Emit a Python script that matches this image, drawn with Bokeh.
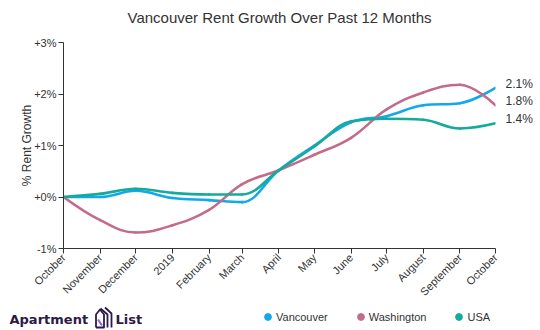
import datetime as dt
from math import pi
from bokeh.plotting import figure
from bokeh.layouts import column, row
from bokeh.models import (FixedTicker, ColumnDataSource, LinearAxis, Legend,
                          LegendItem, Label, Title)
from bokeh.embed import file_html
from bokeh.resources import INLINE

# ---------------- data ----------------
months = ["2018-10-01", "2018-11-01", "2018-12-01", "2019-01-01", "2019-02-01",
          "2019-03-01", "2019-04-01", "2019-05-01", "2019-06-01", "2019-07-01",
          "2019-08-01", "2019-09-01", "2019-10-01"]
tick_labels = ["October", "November", "December", "2019", "February", "March",
               "April", "May", "June", "July", "August", "September", "October"]
vancouver = [0.0, 0.0, 0.12, -0.02, -0.06, -0.10, 0.52, 1.00, 1.45, 1.57, 1.78, 1.82, 2.12]
washington = [0.0, -0.45, -0.69, -0.55, -0.25, 0.25, 0.52, 0.82, 1.15, 1.70, 2.03, 2.18, 1.78]
usa = [0.0, 0.06, 0.16, 0.08, 0.05, 0.05, 0.52, 0.98, 1.47, 1.52, 1.50, 1.33, 1.43]
series_names = ["Vancouver", "Washington", "USA"]
series_colors = ["#13a8ec", "#c36b8a", "#16aa9a"]
y_ticks = [-1, 0, 1, 2, 3]
y_tick_labels = ["-1%", "+0%", "+1%", "+2%", "+3%"]
brand_words = ["Apartment", "List"]

start = dt.date.fromisoformat(months[0])
xs = [(dt.date.fromisoformat(m) - start).days for m in months]


def spline_segments(x, y):
    """Highcharts-style spline control points -> bezier segments."""
    n = len(x)
    lc = [None] * n
    rc = [None] * n
    s = 1.5
    d = s + 1
    for i in range(1, n - 1):
        px, py = x[i], y[i]
        lx, ly = x[i - 1], y[i - 1]
        nx, ny = x[i + 1], y[i + 1]
        lcx = (s * px + lx) / d
        lcy = (s * py + ly) / d
        rcx = (s * px + nx) / d
        rcy = (s * py + ny) / d
        if rcx != lcx:
            corr = ((rcy - lcy) * (rcx - px)) / (rcx - lcx) + py - rcy
            lcy += corr
            rcy += corr
            if lcy > ly and lcy > py:
                lcy = max(ly, py)
                rcy = 2 * py - lcy
            elif lcy < ly and lcy < py:
                lcy = min(ly, py)
                rcy = 2 * py - lcy
            if rcy > ny and rcy > py:
                rcy = max(ny, py)
                lcy = 2 * py - rcy
            elif rcy < ny and rcy < py:
                rcy = min(ny, py)
                lcy = 2 * py - rcy
        lc[i] = (lcx, lcy)
        rc[i] = (rcx, rcy)
    seg = dict(x0=[], y0=[], x1=[], y1=[], cx0=[], cy0=[], cx1=[], cy1=[])
    for i in range(1, n):
        c0 = rc[i - 1] if rc[i - 1] else (x[i - 1], y[i - 1])
        c1 = lc[i] if lc[i] else (x[i], y[i])
        seg["x0"].append(x[i - 1]); seg["y0"].append(y[i - 1])
        seg["x1"].append(x[i]); seg["y1"].append(y[i])
        seg["cx0"].append(c0[0]); seg["cy0"].append(c0[1])
        seg["cx1"].append(c1[0]); seg["cy1"].append(c1[1])
    return seg


MAIN_H = 305
p = figure(width=540, height=MAIN_H, output_backend="svg", toolbar_location=None,
           x_range=(xs[0], xs[-1]), y_range=(-1, 3),
           min_border_left=63, min_border_right=45, min_border_top=42,
           min_border_bottom=MAIN_H - 251, outline_line_color=None,
           title="Vancouver Rent Growth Over Past 12 Months")
p.title.align = "center"
p.title.text_font = "Liberation Sans"
p.title.text_font_size = "15px"
p.title.text_font_style = "normal"
p.title.text_color = "#333333"
p.title.standoff = 4
# spacer between title and plot frame
p.add_layout(Title(text=" ", text_font_size="10px", standoff=2), "above")

p.grid.visible = False

p.yaxis.ticker = FixedTicker(ticks=y_ticks)
p.yaxis.major_label_overrides = {t: l for t, l in zip(y_ticks, y_tick_labels)}
p.yaxis.axis_label = "% Rent Growth"
p.yaxis.axis_label_text_font = "Liberation Sans"
p.yaxis.axis_label_text_font_size = "12px"
p.yaxis.axis_label_text_font_style = "normal"
p.yaxis.axis_label_text_color = "#333333"
p.yaxis.axis_label_standoff = -3

p.xaxis.ticker = FixedTicker(ticks=xs)
p.xaxis.major_label_overrides = {t: l for t, l in zip(xs, tick_labels)}
p.xaxis.major_label_orientation = pi / 4

for ax in (p.xaxis, p.yaxis):
    ax.axis_line_color = "#333333"
    ax.major_tick_line_color = "#333333"
    ax.major_tick_in = 0
    ax.major_tick_out = 5
    ax.minor_tick_line_color = None
    ax.major_label_text_font = "Liberation Sans"
    ax.major_label_text_font_size = "11px"
    ax.major_label_text_color = "#333333"
    ax.major_label_standoff = 2

all_series = [vancouver, washington, usa]
for name, vals, col in zip(series_names, all_series, series_colors):
    seg = spline_segments(xs, vals)
    p.bezier(x0="x0", y0="y0", x1="x1", y1="y1", cx0="cx0", cy0="cy0",
             cx1="cx1", cy1="cy1", source=ColumnDataSource(seg),
             line_color=col, line_width=2.6, line_cap="round")

# end-of-line value labels via an unlined right axis
px_per_unit = 209.0 / 4.0
lift = 4.0 / px_per_unit
end_ticks = [vals[-1] + lift for vals in all_series]
right = LinearAxis(ticker=FixedTicker(ticks=end_ticks),
                   major_label_overrides={t: f"{vals[-1]:.1f}%" for t, vals in zip(end_ticks, all_series)},
                   axis_line_color=None, major_tick_line_color=None,
                   minor_tick_line_color=None, major_label_standoff=4,
                   major_label_text_font="Liberation Sans",
                   major_label_text_font_size="12px",
                   major_label_text_color="#333333")
p.add_layout(right, "right")

# ---------------- bottom strip: brand + legend ----------------
STRIP_H = 330 - MAIN_H
s = figure(width=540, height=STRIP_H, output_backend="svg", toolbar_location=None,
           x_range=(0, 540), y_range=(0, STRIP_H), min_border=0,
           x_axis_location=None, y_axis_location=None,
           outline_line_color=None)
s.grid.visible = False

s.add_layout(Label(x=9, y=11, text=brand_words[0], text_font="DejaVu Sans",
                   text_font_size="13px", text_font_style="bold",
                   text_color="#2b1b47", text_baseline="alphabetic"))
s.add_layout(Label(x=115, y=11, text=brand_words[1], text_font="DejaVu Sans",
                   text_font_size="13px", text_font_style="bold",
                   text_color="#2b1b47", text_baseline="alphabetic"))
# logo mark
s.multi_line(xs=[[95.5, 95.5, 99.5, 103.5, 103.5, 95.5],
                 [100, 107, 107],
                 [104.5, 111, 111]],
             ys=[[3, 16, 21, 16, 3, 3],
                 [22, 16, 3],
                 [23, 17, 3]],
             line_color="#2b1b47", line_width=1.8, line_join="round")
s.multi_line(xs=[[97.5, 101.5]], ys=[[11, 5]], line_color="#8d5cf2", line_width=2)

legend_items = []
for name, col in zip(series_names, series_colors):
    dot = s.scatter(x=[-100], y=[-100], marker="circle", size=7,
                    fill_color=col, line_color=col)
    legend_items.append(LegendItem(label=name, renderers=[dot]))
legend = Legend(items=legend_items, orientation="horizontal",
                location=(259, 5), label_text_font="Liberation Sans",
                label_text_font_size="11px", label_text_color="#333333",
                glyph_width=17, glyph_height=17, label_standoff=0, spacing=24,
                padding=0, margin=0, border_line_color=None,
                background_fill_alpha=0, label_height=17)
s.add_layout(legend, "center")

layout = column(p, row(s, spacing=0), spacing=0)
out = file_html(layout, INLINE)
open("out.html", "w").write(out)
